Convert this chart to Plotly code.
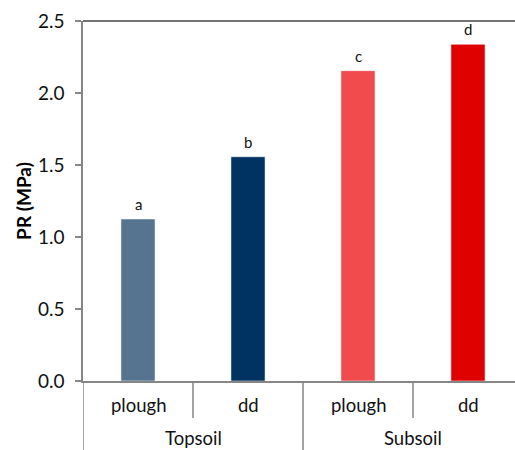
import plotly.graph_objects as go

treatments = ["plough", "dd", "plough", "dd"]
layers = ["Topsoil", "Subsoil"]
values = [1.125, 1.557, 2.155, 2.338]
letters = ["a", "b", "c", "d"]
colors = ["#567490", "#003361", "#f24b4e", "#df0000"]
y_ticks = [0.0, 0.5, 1.0, 1.5, 2.0, 2.5]
y_ticktext = ["0.0", "0.5", "1.0", "1.5", "2.0", "2.5"]

FONT = "Lato"
AX = "#868686"
TXT = "#111111"
x_pos = list(range(len(values)))

fig = go.Figure()
fig.add_trace(go.Bar(
    x=x_pos, y=values, width=0.31,
    marker=dict(color=colors, line=dict(color="rgba(255,255,255,0.5)", width=1)),
    hoverinfo="skip",
))

annotations = []
for xi, v, t in zip(x_pos, values, letters):
    annotations.append(dict(x=xi, y=v, xref="x", yref="y", text=t, showarrow=False,
                            yshift=15, font=dict(family=FONT, size=15, color=TXT)))
for xi, t in zip(x_pos, treatments):
    annotations.append(dict(x=xi, y=-0.068, xref="x", yref="paper", text=t, showarrow=False,
                            yanchor="middle",
                            font=dict(family=FONT, size=18.5, color=TXT)))
per = len(values) // len(layers)
for gi, g in enumerate(layers):
    cx = gi * per + (per - 1) / 2
    annotations.append(dict(x=cx, y=-0.157, xref="x", yref="paper", text=g, showarrow=False,
                            yanchor="middle",
                            font=dict(family=FONT, size=18.5, color=TXT)))

shapes = []
for k in range(1, len(values)):
    y1 = -0.25 if k % per == 0 else -0.103
    shapes.append(dict(type="line", xref="x", yref="paper", x0=k - 0.5, x1=k - 0.5,
                       y0=0, y1=y1, line=dict(color=AX, width=1.5)))
shapes.append(dict(type="line", xref="x", yref="paper", x0=-0.5, x1=-0.5,
                   y0=0, y1=-0.25, line=dict(color=AX, width=1.5)))
shapes.append(dict(type="line", xref="paper", yref="paper", x0=0, x1=1, y0=1, y1=1,
                   line=dict(color="#444444", width=1.5)))

fig.update_layout(
    width=515, height=450,
    margin=dict(l=83, r=0, t=21, b=69),
    plot_bgcolor="white", paper_bgcolor="white",
    showlegend=False,
    annotations=annotations, shapes=shapes,
    xaxis=dict(range=[-0.5, 3.5 - 8 / 110], showticklabels=False, ticks="",
               showline=True, linecolor=AX, linewidth=1.5,
               showgrid=False, zeroline=False, fixedrange=True),
    yaxis=dict(range=[0, 2.5], tickvals=y_ticks, ticktext=y_ticktext,
               ticks="outside", ticklen=6, tickcolor=AX, tickwidth=1.5,
               ticklabelstandoff=7,
               showline=True, linecolor=AX, linewidth=1.5,
               showgrid=False, zeroline=False,
               tickfont=dict(family=FONT, size=19, color=TXT),
               title=dict(text="<b>PR (MPa)</b>", font=dict(family=FONT, size=19, color="#000000"),
                          standoff=1)),
)

fig.write_html("out.html")
